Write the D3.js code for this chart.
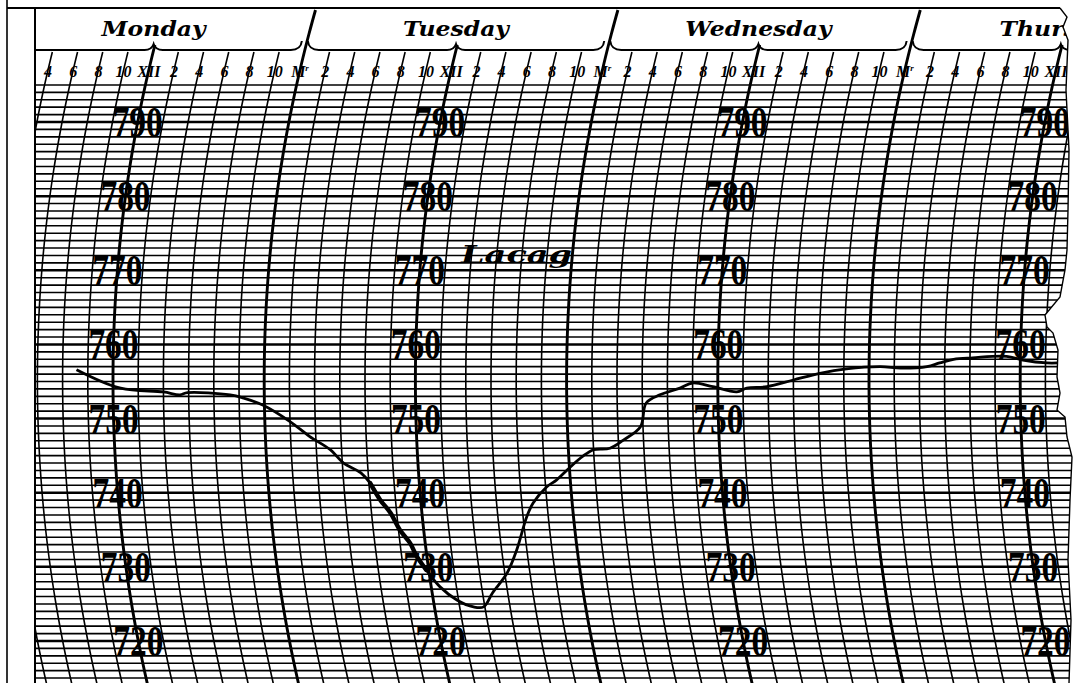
<!DOCTYPE html>
<html>
<head>
<meta charset="utf-8">
<script src="https://cdn.jsdelivr.net/npm/d3@7"></script>
<style>
  html, body { margin: 0; padding: 0; background: #fff; }
  svg { display: block; }
</style>
</head>
<body>
<svg width="1074" height="683"></svg>
<script>
// days on the sheet, hour labels every 2 h (starting at midnight), pressure labels (mm)
const days = ["Monday", "Tuesday", "Wednesday", "Thursday"];
const hourLabels = ["M", "2", "4", "6", "8", "10", "XII", "2", "4", "6", "8", "10"];
const pressureTicks = [790, 780, 770, 760, 750, 740, 730, 720];
const station = "Lacag";

// barograph trace: hours counted from Monday 0h, pressure in mm
const traceHours = [9.1, 12.6, 16.0, 17.3, 17.9, 21.3, 22.3, 23.9, 26.0, 27.5, 29.1, 30.1, 31.4, 32.1, 32.8,
  33.5, 34.1, 34.8, 35.2, 35.8, 36.7, 37.9, 39.1, 39.9, 40.8, 42.2, 43.2, 44.3, 44.9, 46.1, 46.9, 48.1,
  49.1, 50.0, 51.3, 52.4, 53.8, 54.3, 55.4, 57.0, 58.0, 59.6, 61.5, 62.3, 63.9, 66.0, 68.1, 70.2, 72.9,
  74.5, 76.6, 77.6, 78.7, 80.2, 82.9, 84.2, 86.1, 87.0];
const tracePressure = [756.6, 754.1, 753.6, 753.2, 753.5, 753.2, 752.8, 751.8, 749.6, 747.6, 745.8, 744.0,
  742.7, 741.3, 739.0, 737.3, 735.0, 733.2, 731.4, 729.6, 727.3, 725.5, 724.6, 724.6, 726.5, 729.2, 732.3,
  736.8, 738.6, 740.8, 741.7, 743.5, 744.9, 745.8, 746.0, 747.1, 748.9, 752.1, 753.2, 754.1, 754.8, 754.3,
  753.6, 754.1, 754.3, 755.2, 756.1, 756.7, 757.0, 756.8, 757.0, 757.5, 758.0, 758.2, 758.4, 757.9, 757.5,
  757.5];

const svg = d3.select("svg");
const width = +svg.attr("width");
const height = +svg.attr("height");

// pen arm swings on a circle, so time lines are arcs
const R = 1360, yc = 380;
const arcOff = yy => R - Math.sqrt(R * R - (yy - yc) * (yy - yc));

const x = d3.scaleLinear().domain([12, 48]).range([113, 566.6]);
const y = d3.scaleLinear().domain([790, 720]).range([122, 641]);
const px = (t, yy) => x(t) + arcOff(yy);

// torn right edge of the paper
const tear = [[1060, 8], [1067, 17], [1063, 27], [1068, 40], [1066, 90], [1069, 150], [1068, 210],
  [1067, 250], [1065, 270], [1060, 297], [1045, 315], [1047, 327], [1053, 333], [1058, 350], [1057, 377],
  [1060, 393], [1057, 410], [1065, 417], [1067, 437], [1072, 457], [1070, 500], [1068, 560], [1071, 620],
  [1069, 683]];

svg.append("rect").attr("width", width).attr("height", height).attr("fill", "#fff");

const defs = svg.append("defs");
defs.append("clipPath").attr("id", "paper")
  .append("polygon")
  .attr("points", [[35, 0], [1060, 0], ...tear, [35, height]].map(d => d.join(",")).join(" "));

const g = svg.append("g").attr("clip-path", "url(#paper)");

// horizontal pressure lines, one per mm
const mmLines = d3.range(795, 713, -1);
g.selectAll("line.mm")
  .data(mmLines)
  .enter().append("line")
    .attr("class", "mm")
    .attr("x1", 35).attr("x2", 1080)
    .attr("y1", d => y(d)).attr("y2", d => y(d))
    .attr("stroke", "#000")
    .attr("stroke-width", d => d % 10 === 0 ? 2.5 : 1.6);

// time arcs every 2 hours
const hourLines = d3.range(0, 98, 2);
const arcLine = d3.line().x(d => d[0]).y(d => d[1]);
g.selectAll("path.hour")
  .data(hourLines)
  .enter().append("path")
    .attr("class", "hour")
    .attr("fill", "none")
    .attr("stroke", "#000")
    .attr("stroke-width", d => d % 12 === 0 ? 2.9 : 1.6)
    .attr("d", t => {
      const y0 = t % 24 === 0 ? 10 : (t % 24 === 12 ? 45 : 52);
      return arcLine(d3.range(y0, height + 6, 6).map(yy => [px(t, yy), yy]));
    });

// day braces and names
const braceY = 50;
days.forEach((name, i) => {
  const ms = px(24 * i, braceY), nn = px(24 * i + 12, braceY), me = px(24 * i + 24, braceY);
  g.append("path")
    .attr("fill", "none")
    .attr("stroke", "#000")
    .attr("stroke-width", 2)
    .attr("d", `M${ms + 3},41 Q${ms + 4},${braceY} ${ms + 14},${braceY} L${nn - 9},${braceY}
      Q${nn - 2},${braceY} ${nn},${braceY - 6} Q${nn + 2},${braceY} ${nn + 9},${braceY}
      L${me - 14},${braceY} Q${me - 4},${braceY} ${me - 3},41`);
  g.append("text")
    .attr("transform", `translate(${nn},36) scale(1.12,1)`)
    .attr("text-anchor", "middle")
    .attr("font-family", "DejaVu Serif")
    .attr("font-style", "italic")
    .attr("font-weight", "bold")
    .attr("font-size", 21)
    .text(name);
});

// hour labels
const hourTicks = d3.range(2, 98, 2);
const labs = g.selectAll("text.hr")
  .data(hourTicks)
  .enter().append("text")
    .attr("class", "hr")
    .attr("x", t => px(t, 70))
    .attr("y", 77)
    .attr("text-anchor", "middle")
    .attr("font-family", "Liberation Serif")
    .attr("font-style", "italic")
    .attr("font-weight", "bold")
    .attr("font-size", 16);
labs.append("tspan").text(t => hourLabels[(t % 24) / 2]);
labs.filter(t => t % 24 === 0).append("tspan")
  .attr("dy", -6).attr("font-size", 9).text("r");

// pressure labels on each noon line
days.forEach((name, i) => {
  const noon = 24 * i + 12;
  g.selectAll(null)
    .data(pressureTicks)
    .enter().append("text")
      .attr("transform", d => `translate(${px(noon, y(d))},${y(d) + 15}) scale(0.76,1)`)
      .attr("text-anchor", "middle")
      .attr("font-family", "Liberation Serif")
      .attr("font-weight", "bold")
      .attr("font-size", 44)
      .attr("fill", "#000")
      .text(d => d);
});

g.append("text")
  .attr("transform", "translate(461,263) scale(1.4,1)")
  .attr("font-family", "DejaVu Serif")
  .attr("font-style", "italic")
  .attr("font-weight", "bold")
  .attr("font-size", 24)
  .text(station);

// the trace
const trace = traceHours.map((t, i) => [t, tracePressure[i]]);
const traceLine = d3.line()
  .x(d => px(d[0], y(d[1])))
  .y(d => y(d[1]))
  .curve(d3.curveCatmullRom);
g.append("path")
  .datum(trace)
  .attr("fill", "none")
  .attr("stroke", "#000")
  .attr("stroke-width", 2.8)
  .attr("stroke-linejoin", "round")
  .attr("d", traceLine);
g.append("path")
  .datum(trace.filter(d => d[0] >= 32 && d[0] <= 35.9))
  .attr("fill", "none")
  .attr("stroke", "#000")
  .attr("stroke-width", 4.4)
  .attr("stroke-linecap", "round")
  .attr("d", traceLine);

// paper borders
svg.append("line").attr("x1", 7).attr("x2", 7).attr("y1", 0).attr("y2", height)
  .attr("stroke", "#000").attr("stroke-width", 1.6);
svg.append("line").attr("x1", 35).attr("x2", 35).attr("y1", 8).attr("y2", height)
  .attr("stroke", "#000").attr("stroke-width", 2);
svg.append("line").attr("x1", 7).attr("x2", 1060).attr("y1", 8).attr("y2", 8)
  .attr("stroke", "#000").attr("stroke-width", 2);
svg.append("path")
  .attr("fill", "none").attr("stroke", "#000").attr("stroke-width", 1.4)
  .attr("d", d3.line()(tear));
</script>
</body>
</html>
